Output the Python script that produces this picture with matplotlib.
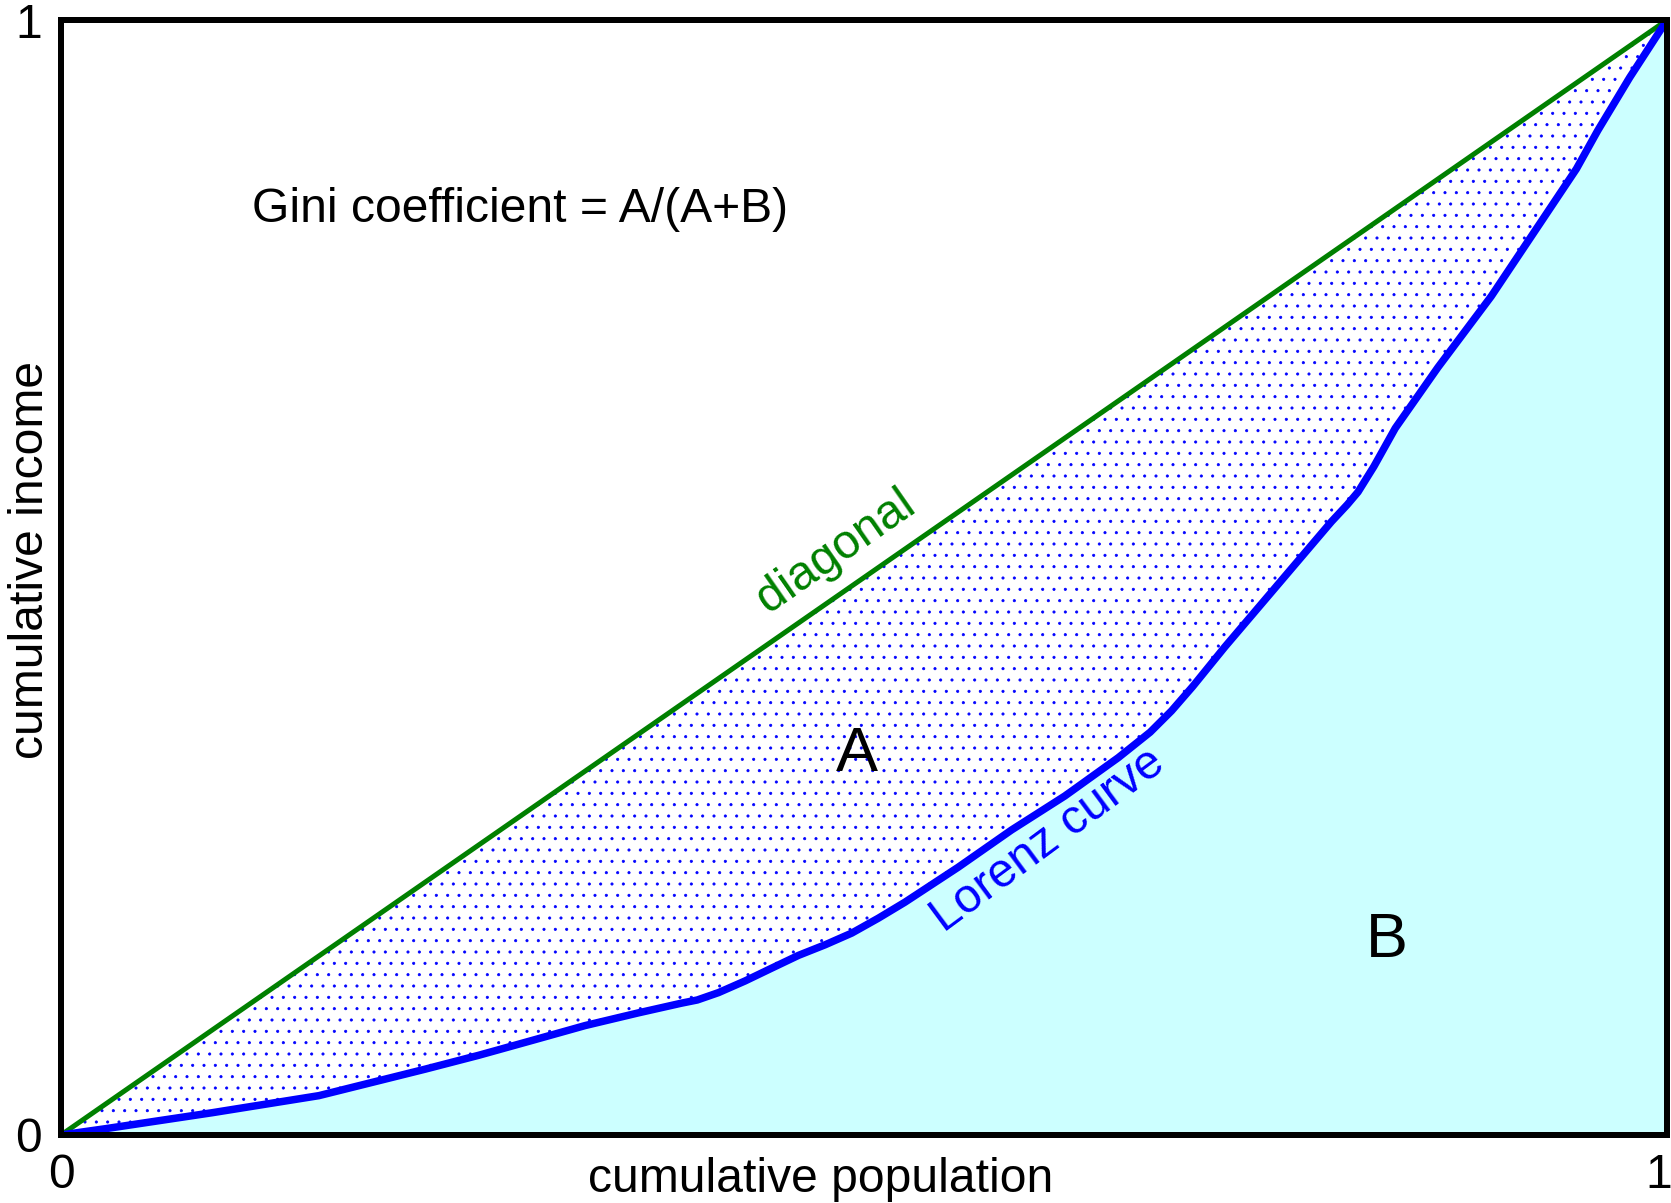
import numpy as np
import matplotlib
matplotlib.use('Agg')
import matplotlib.pyplot as plt
import matplotlib.transforms as mtransforms


# values
pop = [0.0, 0.0279, 0.0942, 0.1606, 0.2269, 0.2601, 0.2933, 0.3265, 0.3597,
       0.3862, 0.3962, 0.4094, 0.4260, 0.4426, 0.4592, 0.4758, 0.4924,
       0.5090, 0.5255, 0.5587, 0.5919, 0.6251, 0.6583, 0.6782, 0.6915,
       0.7047, 0.7246, 0.7578, 0.7910, 0.8009, 0.8076, 0.8175, 0.8308,
       0.8573, 0.8905, 0.9237, 0.9436, 0.9569, 0.9768, 1.0]
income = [0.0, 0.0057, 0.0200, 0.0353, 0.0591, 0.0715, 0.0848, 0.0982, 0.1096,
          0.1182, 0.1211, 0.1277, 0.1382, 0.1497, 0.1611, 0.1706, 0.1811,
          0.1945, 0.2088, 0.2402, 0.2736, 0.3041, 0.3384, 0.3613, 0.3804,
          0.4023, 0.4376, 0.4938, 0.5500, 0.5653, 0.5767, 0.5996, 0.6339,
          0.6883, 0.7521, 0.8236, 0.8665, 0.9009, 0.9485, 1.0]
diag = [0.0, 1.0]
tick_vals = [0, 1]
tick_text = ['0', '1']

dpi = 68
px = 72.0 / dpi  # one pixel in points

plt.rcParams['font.family'] = ['Liberation Sans', 'DejaVu Sans']
plt.rcParams['hatch.linewidth'] = 0.8
plt.rcParams['hatch.color'] = 'blue'

fs = 48 * px
fs_big = 63 * px

fig = plt.figure(figsize=(1671 / dpi, 1203 / dpi), dpi=dpi)
ax = fig.add_axes([61 / 1671, 1 - 1135 / 1203, 1606 / 1671, 1115 / 1203])

lx = np.array(pop)
ly = np.array(income)

# area B below the Lorenz curve
ax.fill_between(lx, ly, 0, facecolor='#ccffff', linewidth=0, zorder=1)
# area A between diagonal and Lorenz curve, dotted
ax.fill_between(lx, ly, lx, facecolor='white', edgecolor='blue',
                hatch='.', linewidth=0, zorder=1)

ax.plot(diag, diag, color='green', linewidth=5 * px, zorder=3)
ax.plot(lx, ly, color='blue', linewidth=7.5 * px, zorder=4,
        solid_capstyle='round', solid_joinstyle='round')

ax.text(0.1188, 0.830, 'Gini coefficient = A/(A+B)', fontsize=fs,
        ha='left', va='center')
ax.text(0.4957, 0.341, 'A', fontsize=fs_big, ha='center', va='center')
ax.text(0.8255, 0.1744, 'B', fontsize=fs_big, ha='center', va='center')
ax.text(0.4824, 0.5234, 'diagonal', fontsize=fs, color='green',
        rotation=34.8, ha='center', va='center')
ax.text(0.6145, 0.264, 'Lorenz curve', fontsize=fs, color='blue',
        rotation=36.5, ha='center', va='center')

ax.set_xlim(0, 1)
ax.set_ylim(0, 1)
ax.set_xticks(tick_vals)
ax.set_xticklabels(tick_text)
ax.set_yticks(tick_vals)
ax.set_yticklabels(tick_text)
ax.tick_params(length=0, labelsize=fs)
ax.tick_params(axis='x', pad=18 * px)
ax.tick_params(axis='y', pad=19 * px)

# last x tick label sits a bit left so it stays inside the figure
lab = ax.get_xticklabels()[-1]
lab.set_transform(lab.get_transform() +
                  mtransforms.ScaledTranslation(-8 / dpi, 0, fig.dpi_scale_trans))

ax.set_xlabel('cumulative population', fontsize=fs)
ax.xaxis.set_label_coords(0.473, -0.0514)
ax.xaxis.label.set_va('baseline')
ax.set_ylabel('cumulative income', fontsize=fs)
ax.yaxis.set_label_coords(-0.0115, 0.516)
ax.yaxis.label.set_va('baseline')

for s in ax.spines.values():
    s.set_linewidth(6 * px)
    s.set_capstyle('projecting')
    s.set_zorder(5)

fig.savefig('out.png', dpi=dpi)
